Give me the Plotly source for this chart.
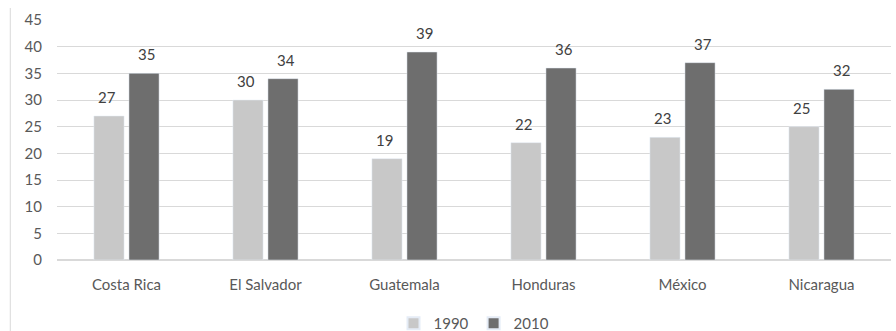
import plotly.graph_objects as go

countries = ["Costa Rica", "El Salvador", "Guatemala", "Honduras", "México", "Nicaragua"]
v1990 = [27, 30, 19, 22, 23, 25]
v2010 = [35, 34, 39, 36, 37, 32]
y_ticks = [0, 5, 10, 15, 20, 25, 30, 35, 40, 45]

FONT = "Lato"
fig = go.Figure()
fig.add_trace(go.Bar(name="1990", x=countries, y=v1990, marker_color="#c8c8c8"))
fig.add_trace(go.Bar(name="2010", x=countries, y=v2010, marker_color="#6e6e6e"))

annotations = []
for series, shift in ((v1990, -20), (v2010, 20)):
    for c, v in zip(countries, series):
        annotations.append(dict(x=c, y=v, xref="x", yref="y", text=str(v), showarrow=False,
                                xshift=shift, yshift=8, yanchor="bottom",
                                font=dict(size=15, color="#404040", family=FONT)))

fig.update_layout(
    width=896, height=331,
    margin=dict(l=57, r=5, t=20, b=71, autoexpand=False),
    paper_bgcolor="white", plot_bgcolor="white",
    barmode="group", bargap=0.496, bargroupgap=0.14,
    font=dict(family=FONT, size=15, color="#595959"),
    showlegend=True,
    legend=dict(orientation="h", x=0.5, xanchor="center", xref="paper",
                y=-0.265, yanchor="middle", yref="paper",
                font=dict(size=15, color="#595959"), itemwidth=30, traceorder="normal",
                tracegroupgap=0, itemsizing="constant"),
    xaxis=dict(showgrid=False, showline=False, ticks="", automargin=False,
               ticklabelstandoff=14, tickfont=dict(size=15, color="#595959")),
    yaxis=dict(range=[0, 45], tickvals=y_ticks, showgrid=True, gridcolor="#d9d9d9",
               gridwidth=1, zeroline=True, zerolinecolor="#d9d9d9", showline=False,
               ticks="", automargin=False, ticklabelstandoff=14,
               tickfont=dict(size=15, color="#595959")),
    annotations=annotations,
    shapes=[dict(type="line", xref="paper", yref="paper", x0=-0.056, x1=-0.056,
                 y0=-0.3, y1=1.05, line=dict(color="#d9d9d9", width=1))],
)

fig.write_html("out.html")
